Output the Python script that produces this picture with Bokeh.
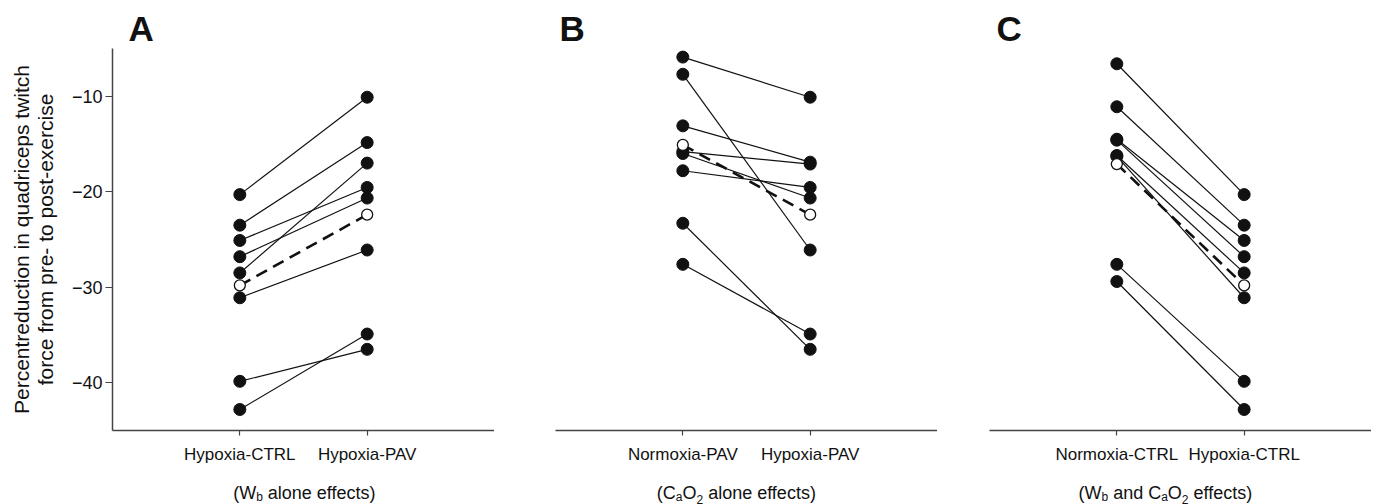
from bokeh.plotting import figure
from bokeh.layouts import row, column
from bokeh.models import FixedTicker, ColumnDataSource, Range1d
from bokeh.core.properties import value
from bokeh.embed import file_html
from bokeh.resources import INLINE

# ---------------- data ----------------
a_categories = ["Hypoxia-CTRL", "Hypoxia-PAV"]
a_left = [-20.3, -23.5, -25.1, -26.8, -28.5, -31.1, -39.85, -42.8]
a_right = [-10.1, -14.85, -19.55, -20.66, -17.0, -26.1, -36.5, -34.9]
a_mean = [-29.8, -22.4]

b_categories = ["Normoxia-PAV", "Hypoxia-PAV"]
b_left = [-5.9, -7.7, -13.1, -15.8, -16.0, -17.8, -23.3, -27.6]
b_right = [-10.1, -26.1, -16.9, -17.1, -20.66, -19.55, -36.5, -34.9]
b_mean = [-15.1, -22.4]

c_categories = ["Normoxia-CTRL", "Hypoxia-CTRL"]
c_left = [-6.6, -11.1, -14.5, -14.6, -16.2, -16.3, -27.6, -29.4]
c_right = [-20.3, -23.5, -25.1, -26.8, -28.5, -31.1, -39.85, -42.8]
c_mean = [-17.1, -29.8]

y_ticks = [-10, -20, -30, -40]
positions = [1, 2]
panel_letters = ["A", "B", "C"]
# caption pieces: (text, is_subscript)
a_caption = [("(W", False), ("b", True), (" alone effects)", False)]
b_caption = [("(C", False), ("a", True), ("O", False), ("2", True), (" alone effects)", False)]
c_caption = [("(W", False), ("b", True), (" and C", False), ("a", True), ("O", False),
             ("2", True), (" effects)", False)]
y_label = "Percentreduction in quadriceps twitch\nforce from pre- to post-exercise"

# ---------------- layout / style ----------------
FONT = "Liberation Sans"
TOTAL_W = 1373
TOP_STRIP = 48
BOTTOM_STRIP = 24
FRAME_W = 382
FRAME_H = 382
PANEL_BOTTOM = 504 - TOP_STRIP - BOTTOM_STRIP - FRAME_H
X_RANGE = (0, 3)
Y_RANGE = (-45, -5)
DESCENT = 0.212  # Liberation Sans descent, in em

ARIAL = {'(': 333, ')': 333, 'W': 944, 'b': 556, ' ': 278, 'a': 556, 'l': 222,
         'o': 556, 'n': 556, 'e': 556, 'f': 278, 'c': 500, 't': 278, 's': 500,
         'C': 722, 'O': 778, '2': 556, 'd': 556}
CAP_MAIN = 18
CAP_SUB = 12
CAP_BASE = 18.5      # baseline of caption text inside the bottom strip
SUB_BASE = 20.8      # baseline of subscripts inside the bottom strip


def text_w(s, size):
    return sum(ARIAL.get(ch, 556) for ch in s) * size / 1000.0


def make_panel(cats, left, right, mean, border_left, show_y):
    p = figure(frame_width=FRAME_W, frame_height=FRAME_H,
               x_range=X_RANGE, y_range=Y_RANGE, title=None,
               min_border_left=border_left, min_border_right=0,
               min_border_top=0, min_border_bottom=PANEL_BOTTOM,
               output_backend="svg", toolbar_location=None, tools="",
               y_axis_location="left" if show_y else None)
    p.outline_line_color = None
    p.background_fill_color = "white"
    p.border_fill_color = "white"
    p.xgrid.visible = False
    p.ygrid.visible = False

    xa = p.xaxis[0]
    xa.ticker = FixedTicker(ticks=positions)
    xa.major_label_overrides = {positions[0]: cats[0], positions[1]: cats[1]}
    xa.minor_tick_line_color = None
    xa.major_tick_in = 0
    xa.major_tick_out = 5
    xa.axis_line_color = "#444444"
    xa.axis_line_width = 1.5
    xa.major_tick_line_color = "#444444"
    xa.major_tick_line_width = 1.2
    xa.major_label_text_font = FONT
    xa.major_label_text_font_size = "17px"
    xa.major_label_text_color = "#111111"
    xa.major_label_standoff = 9

    if show_y:
        ya = p.yaxis[0]
        ya.ticker = FixedTicker(ticks=y_ticks)
        ya.minor_tick_line_color = None
        ya.major_tick_in = 0
        ya.major_tick_out = 7
        ya.axis_line_color = "#444444"
        ya.axis_line_width = 1.5
        ya.major_tick_line_color = "#444444"
        ya.major_tick_line_width = 1.2
        ya.major_label_text_font = FONT
        ya.major_label_text_font_size = "18px"
        ya.major_label_text_color = "#111111"
        ya.major_label_standoff = 3
        ya.axis_label = y_label
        ya.axis_label_text_font = FONT
        ya.axis_label_text_font_size = "21px"
        ya.axis_label_text_font_style = "normal"
        ya.axis_label_text_color = "#111111"
        ya.axis_label_text_line_height = 1.05
        ya.axis_label_standoff = 12

    src = ColumnDataSource(dict(
        x0=[positions[0]] * len(left), y0=left,
        x1=[positions[1]] * len(right), y1=right))
    p.segment(x0="x0", y0="y0", x1="x1", y1="y1", source=src,
              line_color="#111111", line_width=1.2)
    p.line(positions, mean, line_color="#111111", line_width=2.6, line_dash="12 7")
    p.scatter("x0", "y0", source=src, size=12, marker="circle",
              fill_color="#111111", line_color="#111111")
    p.scatter("x1", "y1", source=src, size=12, marker="circle",
              fill_color="#111111", line_color="#111111")
    p.scatter(positions, mean, size=11, marker="circle",
              fill_color="white", line_color="#111111", line_width=1.3)
    return p


def strip(height):
    s = figure(frame_width=TOTAL_W, frame_height=height, title=None,
               x_range=Range1d(0, TOTAL_W), y_range=Range1d(height, 0),
               min_border=0, min_border_left=0, min_border_right=0,
               min_border_top=0, min_border_bottom=0,
               x_axis_location=None, y_axis_location=None,
               output_backend="svg", toolbar_location=None, tools="")
    s.outline_line_color = None
    s.background_fill_color = "white"
    s.border_fill_color = "white"
    s.xgrid.visible = False
    s.ygrid.visible = False
    return s


pA = make_panel(a_categories, a_left, a_right, a_mean, border_left=112, show_y=True)
pB = make_panel(b_categories, b_left, b_right, b_mean, border_left=61, show_y=False)
pC = make_panel(c_categories, c_left, c_right, c_mean, border_left=52, show_y=False)

# top strip: panel letters (pixel coordinates of the strip); baseline at 40 px
top = strip(TOP_STRIP)
letter_x = [128, 559, 996]
letter_size = 35
top.text(x=letter_x, y=[40 + DESCENT * letter_size] * 3, text=panel_letters,
         text_font=value(FONT), text_font_size=value(f"{letter_size}px"),
         text_font_style="bold", text_color="#111111",
         text_baseline="bottom", text_align="left")

# bottom strip: captions with subscripts
bottom = strip(BOTTOM_STRIP)
cx, cy, ct, cs = [], [], [], []
for caption, center in ((a_caption, 304), (b_caption, 736), (c_caption, 1165)):
    total = sum(text_w(t, CAP_SUB if sub else CAP_MAIN) for t, sub in caption)
    cur = center - total / 2.0
    for t, sub in caption:
        size = CAP_SUB if sub else CAP_MAIN
        stripped = t.lstrip(" ")
        lead = text_w(t[:len(t) - len(stripped)], size)
        cx.append(cur + lead)
        cy.append((SUB_BASE if sub else CAP_BASE) + DESCENT * size)
        ct.append(stripped)
        cs.append(f"{size}px")
        cur += text_w(t, size)
bottom.text(x="x", y="y", text="t", text_font_size="s",
            source=ColumnDataSource(dict(x=cx, y=cy, t=ct, s=cs)),
            text_font=value(FONT), text_color="#111111",
            text_baseline="bottom", text_align="left")

layout = column(top, row(pA, pB, pC, spacing=0), bottom, spacing=0)
open("out.html", "w").write(file_html(layout, INLINE))
